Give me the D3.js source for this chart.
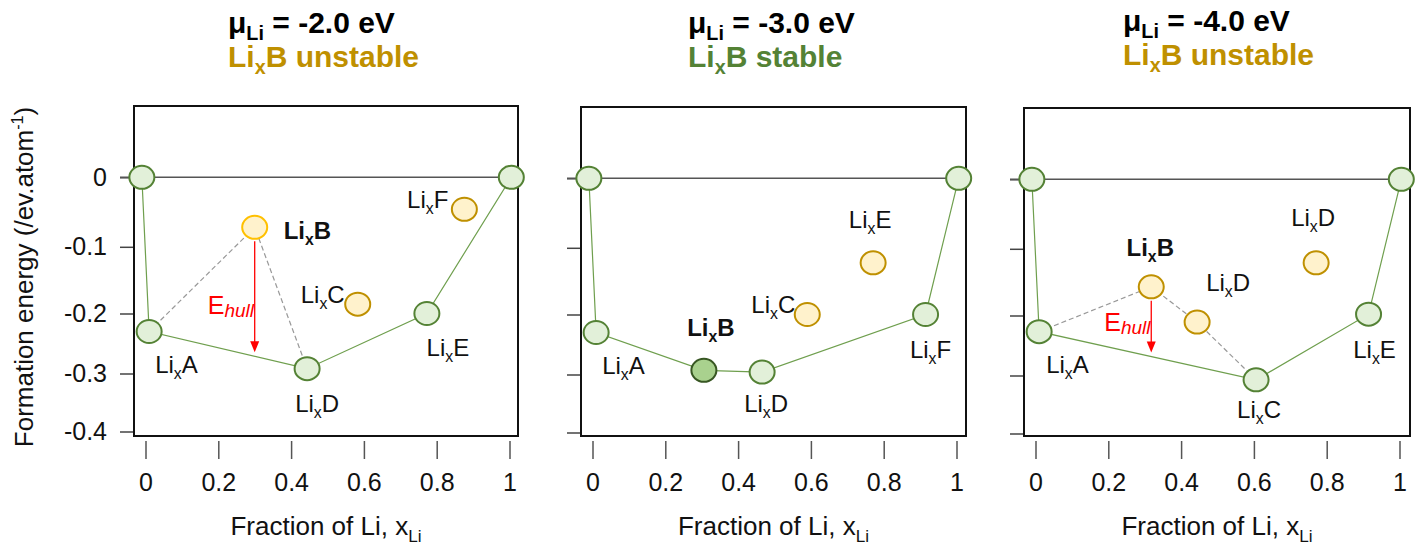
<!DOCTYPE html>
<html>
<head>
<meta charset="utf-8">
<script src="https://cdn.jsdelivr.net/npm/d3@7"></script>
<style>
  body { margin: 0; background: #fff; }
  svg { display: block; font-family: Arial, "Liberation Sans", sans-serif; }
</style>
</head>
<body>
<svg id="chart" width="1420" height="548"></svg>
<script>
// Convex-hull construction for Li–X phases at three lithium chemical potentials.

// ---- data -------------------------------------------------------------
const muLi = ["-2.0", "-3.0", "-4.0"];
const verdicts = ["unstable", "stable", "unstable"];

const xTicks = [0, 0.2, 0.4, 0.6, 0.8, 1];
const xTickLabels = ["0", "0.2", "0.4", "0.6", "0.8", "1"];
const yTicks = [0, -0.1, -0.2, -0.3, -0.4];
const yTickLabels = ["0", "-0.1", "-0.2", "-0.3", "-0.4"];

// Panel 1: μLi = -2.0 eV
const p1Names = [null, "A", "B", "C", "D", "E", "F", null];
const p1X = [-0.01, 0.01, 0.30, 0.583, 0.444, 0.773, 0.876, 1.005];
const p1E = [0, -0.23, -0.072, -0.186, -0.292, -0.20, -0.046, 0];
const p1State = ["hull", "hull", "probe", "above", "hull", "hull", "above", "hull"];
const p1Hull = [0, 1, 4, 5, 7];
const p1Tie = [1, 2, 4];            // dashed decomposition path through LixB

// Panel 2: μLi = -3.0 eV
const p2Names = [null, "A", "B", "D", "C", "E", "F", null];
const p2X = [-0.01, 0.01, 0.306, 0.466, 0.59, 0.771, 0.915, 1.006];
const p2E = [0, -0.23, -0.293, -0.296, -0.20, -0.1225, -0.20, 0];
const p2State = ["hull", "hull", "key", "hull", "above", "above", "hull", "hull"];
const p2Hull = [0, 1, 2, 3, 6, 7];
const p2Tie = [];

// Panel 3: μLi = -4.0 eV
const p3Names = [null, "A", "B", "D", "C", "D", "E", null];
const p3X = [-0.01, 0.01, 0.318, 0.444, 0.606, 0.771, 0.915, 1.005];
const p3E = [0, -0.227, -0.157, -0.211, -0.3075, -0.121, -0.198, 0];
const p3State = ["hull", "hull", "above", "above", "hull", "above", "hull", "hull"];
const p3Hull = [0, 1, 4, 6, 7];
const p3Tie = [1, 2, 3, 4];

const panels = [
  { names: p1Names, x: p1X, e: p1E, state: p1State, hull: p1Hull, tie: p1Tie, probe: 2, hullSeg: [1, 4] },
  { names: p2Names, x: p2X, e: p2E, state: p2State, hull: p2Hull, tie: p2Tie, probe: null, hullSeg: null },
  { names: p3Names, x: p3X, e: p3E, state: p3State, hull: p3Hull, tie: p3Tie, probe: 2, hullSeg: [1, 4] }
];

// ---- layout -----------------------------------------------------------
const frames = [
  { left: 134, top: 106, width: 384, title: 228, titleY: 0 },
  { left: 581, top: 107, width: 385, title: 688, titleY: 0 },
  { left: 1024, top: 108, width: 386, title: 1123, titleY: -2 }
];
const frameBottom = 436;
// energy axis is laid out with unevenly spaced ticks
const yStops = [71.3, 140.8, 207.5, 267.5, 325.5];

// label offsets from each point: [dx, dy, anchor]
const labelPlace = [
  [null, [6, 41, "start"], [29, 12, "start"], [-13, -1, "end"], [10, 43, "middle"], [21, 42, "middle"], [-16, -1, "end"], null],
  [null, [6, 41, "start"], [7, -34, "middle"], [4, 40, "middle"], [-12, -2, "end"], [-3, -35, "middle"], [5, 43, "middle"], null],
  [null, [7, 41, "start"], [-1, -31, "middle"], [31, -31, "middle"], [3, 38, "middle"], [-3, -37, "middle"], [6, 44, "middle"], null]
];
const ehullPlace = [[-47, 87], null, [-47, 44]];

const GOLD = "#BF9000", GREEN = "#548235";
const markStyle = {
  hull:  { fill: "#E2F0D9", stroke: GREEN },
  key:   { fill: "#A9D18E", stroke: "#385723" },
  above: { fill: "#FFF2CC", stroke: GOLD },
  probe: { fill: "#FFF2CC", stroke: "#FFC000" }
};

const svg = d3.select("#chart");

// text with sub/superscript runs
function richText(g, x, y, parts, o) {
  const size = o.size;
  const t = g.append("text")
    .attr("x", x).attr("y", y)
    .attr("font-size", size)
    .attr("font-weight", o.weight || "normal")
    .attr("fill", o.color || "#000")
    .attr("text-anchor", o.anchor || "start");
  let shift = 0;
  parts.forEach(p => {
    const target = p.sub ? size * (p.drop || 0.3) : p.sup ? -size * 0.4 : 0;
    const ts = t.append("tspan").text(p.t).attr("dy", target - shift);
    if (p.sub || p.sup) ts.attr("font-size", size * (p.scale || 0.62));
    if (p.italic) ts.attr("font-style", "italic");
    shift = target;
  });
  return t;
}

panels.forEach((pd, k) => {
  const f = frames[k];
  const g = svg.append("g");
  const right = f.left + f.width;

  const x = d3.scaleLinear().domain([0, 1]).range([f.left + 11.5, f.left + 375.5]);
  const y = d3.scaleLinear().domain(yTicks).range(yStops.map(s => f.top + s));

  // titles
  const color = verdicts[k] === "stable" ? GREEN : GOLD;
  richText(g, f.title, 33 + f.titleY, [
    { t: "μ" }, { t: "Li", sub: true, scale: 0.66, drop: 0.22 }, { t: " = " + muLi[k] + " eV" }
  ], { size: 30, weight: "bold" });
  richText(g, f.title, 67 + f.titleY, [
    { t: "Li" }, { t: "x", sub: true, scale: 0.66, drop: 0.22 }, { t: "B " + verdicts[k] }
  ], { size: 30, weight: "bold", color });

  // y axis ticks
  const yAxis = d3.axisLeft(y).tickValues(yTicks).tickSize(14).tickPadding(13)
    .tickFormat((d, i) => k === 0 ? yTickLabels[i] : "");
  const ya = g.append("g").attr("transform", `translate(${f.left},0)`).call(yAxis);
  ya.select(".domain").remove();
  ya.selectAll(".tick line").attr("stroke", "#444").attr("stroke-width", 1.5);
  ya.selectAll(".tick text").attr("font-size", 25).attr("fill", "#111")
    .attr("font-family", "Arial, 'Liberation Sans', sans-serif");

  // x axis ticks, detached below the frame
  const xAxis = d3.axisBottom(x).tickValues(xTicks).tickSize(18).tickPadding(14)
    .tickFormat((d, i) => xTickLabels[i]);
  const xa = g.append("g").attr("transform", `translate(0,${frameBottom + 5})`).call(xAxis);
  xa.select(".domain").remove();
  xa.selectAll(".tick line").attr("stroke", "#555").attr("stroke-width", 1.5);
  xa.selectAll(".tick text").attr("font-size", 25).attr("fill", "#111")
    .attr("font-family", "Arial, 'Liberation Sans', sans-serif");

  // zero reference line
  g.append("line")
    .attr("x1", f.left - 14).attr("x2", right)
    .attr("y1", y(0)).attr("y2", y(0))
    .attr("stroke", "#555").attr("stroke-width", 1.5);

  // frame
  g.append("rect")
    .attr("x", f.left).attr("y", f.top)
    .attr("width", f.width).attr("height", frameBottom - f.top)
    .attr("fill", "none").attr("stroke", "#111").attr("stroke-width", 2);

  const pts = pd.x.map((v, i) => ({ px: x(v), py: y(pd.e[i]), i }));

  // convex hull
  g.append("path")
    .attr("d", d3.line()(pd.hull.map(i => [pts[i].px, pts[i].py])))
    .attr("fill", "none").attr("stroke", "#6F9F4E").attr("stroke-width", 1.2);

  // decomposition tie lines
  if (pd.tie.length) {
    g.append("path")
      .attr("d", d3.line()(pd.tie.map(i => [pts[i].px, pts[i].py])))
      .attr("fill", "none").attr("stroke", "#999").attr("stroke-width", 1.2)
      .attr("stroke-dasharray", "5,3");
  }

  // energy above hull
  if (pd.probe !== null) {
    const b = pts[pd.probe];
    const a = pts[pd.hullSeg[0]], c = pts[pd.hullSeg[1]];
    const hullY = a.py + (b.px - a.px) / (c.px - a.px) * (c.py - a.py);
    const y0 = b.py + 14, y1 = hullY - 4;
    g.append("line")
      .attr("x1", b.px).attr("x2", b.px).attr("y1", y0).attr("y2", y1 - 10)
      .attr("stroke", "#FF0000").attr("stroke-width", 1.3);
    g.append("path")
      .attr("d", d3.line()([[b.px - 4.5, y1 - 11], [b.px + 4.5, y1 - 11], [b.px, y1]]) + "Z")
      .attr("fill", "#FF0000");
    const ep = ehullPlace[k];
    richText(g, b.px + ep[0], b.py + ep[1], [
      { t: "E" }, { t: "hull", sub: true, italic: true, scale: 0.76, drop: 0.12 }
    ], { size: 25, color: "#FF0000" });
  }

  // phases
  g.selectAll("ellipse.phase").data(pts).join("ellipse")
    .attr("class", "phase")
    .attr("cx", d => d.px).attr("cy", d => d.py)
    .attr("rx", 12.5).attr("ry", 11.5)
    .attr("fill", d => markStyle[pd.state[d.i]].fill)
    .attr("stroke", d => markStyle[pd.state[d.i]].stroke)
    .attr("stroke-width", 2);

  // phase labels
  pts.forEach(d => {
    const nm = pd.names[d.i];
    if (!nm) return;
    const lp = labelPlace[k][d.i];
    const bold = nm === "B";
    richText(g, d.px + lp[0], d.py + lp[1], [
      { t: "Li" }, { t: "x", sub: true, scale: 0.66, drop: 0.25 }, { t: nm }
    ], { size: 24, anchor: lp[2], weight: bold ? "bold" : "normal", color: "#111" });
  });

  // x axis title
  richText(g, f.left + f.width / 2, 535, [
    { t: "Fraction of Li, x" }, { t: "Li", sub: true, scale: 0.66, drop: 0.25 }
  ], { size: 26, anchor: "middle", color: "#111" });
});

// y axis title
const yt = richText(svg, 0, 0, [
  { t: "Formation energy (/ev.atom" }, { t: "-1", sup: true, scale: 0.62 }, { t: ")" }
], { size: 26, anchor: "middle", color: "#111" });
yt.attr("transform", "translate(33,277) rotate(-90)");
</script>
</body>
</html>
